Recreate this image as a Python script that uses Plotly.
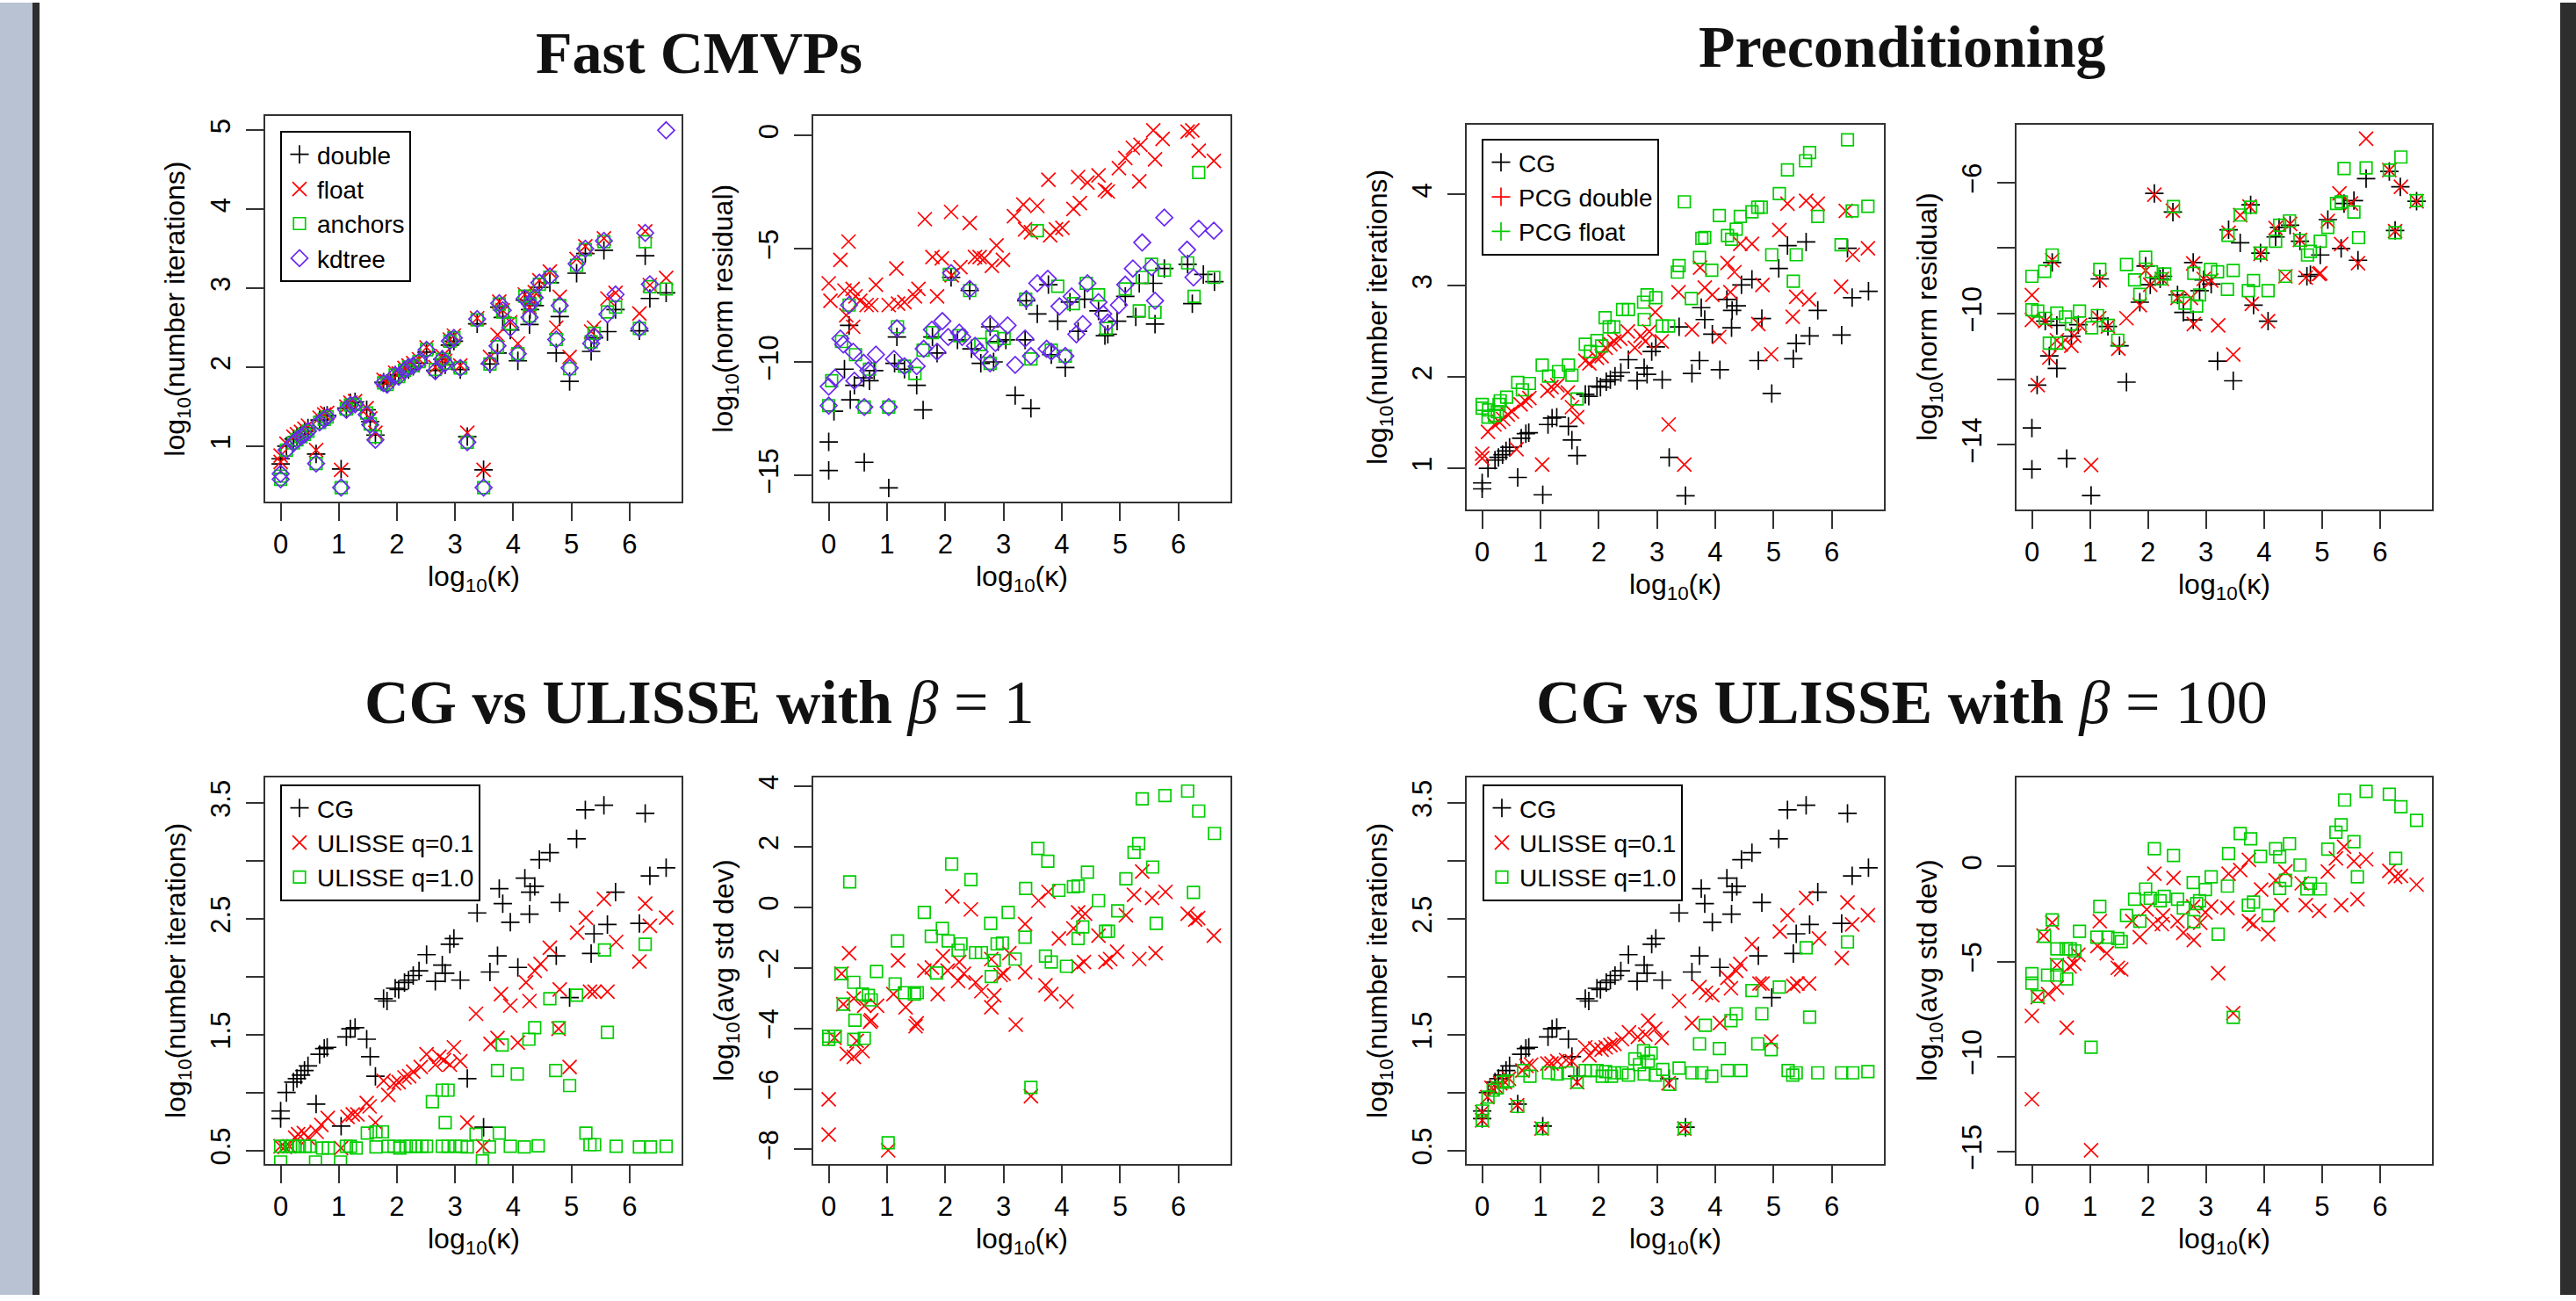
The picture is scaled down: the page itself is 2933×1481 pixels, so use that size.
import plotly.graph_objects as go

# ---------------- data ----------------
kappa_x = [0.00, 0.00, 0.10, 0.22, 0.28, 0.35, 0.41, 0.47, 0.61, 0.67, 0.75, 0.80, 1.04, 1.13, 1.20, 1.28,
           1.48, 1.54, 1.63, 1.77, 1.83, 1.97, 2.03, 2.13, 2.20, 2.28, 2.38, 2.51, 2.66, 2.78, 2.83, 2.91,
           2.98, 3.09, 3.21, 3.38, 3.49, 3.60, 3.73, 3.76, 3.82, 3.95, 4.08, 4.20, 4.28, 4.29, 4.37, 4.45,
           4.63, 4.74, 4.80, 4.97, 5.09, 5.24, 5.34, 5.39, 5.56, 5.62, 5.76, 6.17, 6.27, 6.35, 6.63]
cg_iters = [0.84, 0.775, 1.00, 1.09, 1.12, 1.15, 1.19, 1.23, 0.90, 1.33, 1.38, 1.39, 0.71, 1.48, 1.55, 1.56,
            1.46, 1.31, 1.14, 1.81, 1.79, 1.90, 1.89, 1.95, 1.97, 2.01, 2.05, 2.19, 1.96, 2.10, 2.03, 2.28,
            2.33, 1.97, 1.12, 2.55, 0.70, 2.04, 2.18, 2.76, 2.63, 2.47, 2.08, 2.85, 2.54, 2.73, 2.78, 3.01,
            3.07, 2.18, 2.64, 1.82, 3.19, 3.44, 2.20, 2.37, 3.48, 2.45, 2.73, 2.46, 3.41, 2.87, 2.94]
float_iters = [0.88, 0.80, 1.03, 1.12, 1.15, 1.18, 1.22, 1.26, 0.95, 1.36, 1.40, 1.42, 0.70, 1.50, 1.55, 1.57,
               1.48, 1.35, 1.17, 1.84, 1.82, 1.93, 1.92, 1.99, 2.02, 2.05, 2.10, 2.25, 2.00, 2.14, 2.08, 2.35,
               2.40, 2.02, 1.17, 2.62, 0.70, 2.13, 2.41, 2.83, 2.72, 2.57, 2.30, 2.92, 2.76, 2.85, 2.95, 3.10,
               3.21, 2.50, 2.89, 2.13, 3.37, 3.53, 2.45, 2.50, 3.63, 2.87, 2.94, 2.68, 3.72, 3.04, 3.13]
anchors_iters = [0.62, 0.58, 0.95, 1.04, 1.08, 1.12, 1.15, 1.19, 0.78, 1.30, 1.34, 1.37, 0.475, 1.47, 1.52, 1.53,
                 1.42, 1.28, 1.12, 1.80, 1.78, 1.90, 1.88, 1.96, 2.00, 2.02, 2.07, 2.22, 1.97, 2.10, 2.05, 2.33,
                 2.37, 1.99, 1.05, 2.60, 0.475, 2.04, 2.26, 2.80, 2.70, 2.55, 2.17, 2.90, 2.65, 2.80, 2.87, 3.05,
                 3.14, 2.35, 2.78, 1.98, 3.29, 3.49, 2.32, 2.43, 3.59, 2.70, 2.76, 2.49, 3.59, 3.02, 2.99]
kdtree_iters = [0.65, 0.58, 0.95, 1.04, 1.08, 1.12, 1.15, 1.19, 0.78, 1.30, 1.34, 1.37, 0.475, 1.46, 1.52, 1.53,
                1.40, 1.27, 1.08, 1.80, 1.78, 1.90, 1.88, 1.96, 2.00, 2.02, 2.07, 2.22, 1.95, 2.10, 2.05, 2.33,
                2.37, 1.99, 1.05, 2.61, 0.475, 2.05, 2.27, 2.81, 2.72, 2.50, 2.17, 2.87, 2.63, 2.80, 2.88, 3.07,
                3.15, 2.35, 2.78, 1.99, 3.31, 3.50, 2.30, 2.39, 3.60, 2.67, 2.92, 2.49, 3.70, 3.05, 5.00]

# Fast CMVPs: norm residual
res_double_x = [0.00, 0.00, 0.61, 1.03, 0.09, 0.27, 0.35, 0.44, 0.37, 0.60, 0.70, 0.78, 1.17, 1.13, 1.30, 1.51,
                1.62, 1.78, 1.86, 2.10, 2.21, 2.42, 2.45, 2.61, 2.77, 2.83, 2.91, 3.04, 3.20, 3.37, 3.39, 3.47,
                3.58, 3.77, 3.82, 3.93, 4.06, 4.14, 4.28, 4.39, 4.63, 4.74, 4.79, 4.95, 5.09, 5.27, 5.33, 5.57,
                5.60, 5.76, 6.16, 6.24, 6.43, 6.62]
res_double_y = [-13.52, -14.78, -14.42, -15.55, -12.17, -10.31, -8.38, -11.02, -11.66, -10.69, -10.82, -10.37,
                -8.89, -10.05, -10.31, -11.02, -12.11, -8.89, -9.60, -6.26, -9.02, -6.84, -9.41, -10.05, -8.44,
                -9.99, -9.09, -9.02, -11.47, -9.02, -7.29, -12.04, -7.87, -6.58, -9.67, -8.19, -10.24, -7.35,
                -8.64, -7.22, -7.74, -8.83, -8.77, -8.19, -7.10, -8.00, -6.52, -6.52, -8.32, -5.87, -5.68,
                -7.42, -6.13, -6.45]
res_float_x = [0.00, 0.03, 0.20, 0.34, 0.27, 0.41, 0.46, 0.54, 0.65, 0.73, 0.81, 0.42, 0.30, 1.03, 1.16, 1.19,
               1.30, 1.48, 1.54, 1.65, 1.78, 1.86, 1.94, 2.10, 2.11, 2.26, 2.42, 2.51, 2.59, 2.67, 2.80, 2.88,
               2.99, 3.18, 3.34, 3.37, 3.47, 3.58, 3.77, 3.80, 3.90, 4.01, 4.20, 4.28, 4.31, 4.44, 4.63, 4.74,
               4.79, 4.98, 5.09, 5.22, 5.33, 5.35, 5.57, 5.60, 5.73, 6.16, 6.24, 6.35, 6.61]
res_float_y = [-6.52, -7.29, -5.49, -4.68, -6.84, -6.77, -7.10, -7.29, -7.48, -7.48, -6.58, -8.44, -7.93, -7.48,
               -5.87, -7.42, -7.35, -7.10, -6.77, -3.69, -5.36, -7.10, -5.42, -3.37, -6.17, -5.81, -3.86, -5.36,
               -5.36, -5.42, -5.75, -4.85, -5.49, -3.56, -3.05, -4.14, -4.27, -3.11, -1.95, -4.40, -4.14, -4.07,
               -3.24, -1.83, -2.98, -2.08, -1.76, -2.40, -2.47, -1.44, -0.99, -0.54, -2.02, -0.41, 0.23, -1.05,
               -0.15, 0.17, 0.23, -0.67, -1.12]
res_anchors_x = [0.00, 0.05, 0.22, 0.35, 0.46, 0.61, 0.70, 1.03, 1.18, 1.30, 1.48, 1.62, 1.78, 2.07, 2.24, 2.42,
                 2.61, 2.80, 2.77, 3.01, 3.38, 3.47, 3.58, 3.93, 3.82, 4.06, 4.20, 4.42, 4.63, 4.76, 5.09, 5.33,
                 5.38, 5.54, 5.60, 5.76, 6.16, 6.27, 6.35, 6.61]
res_anchors_y = [-11.92, -10.82, -9.09, -7.48, -9.67, -11.98, -10.31, -11.98, -8.44, -10.18, -10.50, -9.47, -8.70,
                 -6.13, -8.83, -6.84, -9.22, -8.89, -10.05, -8.96, -7.22, -9.86, -4.20, -6.65, -9.47, -9.73, -7.42,
                 -6.52, -7.03, -8.51, -6.77, -7.74, -6.26, -5.68, -7.80, -5.94, -5.62, -7.10, -1.63, -6.26]
res_kdtree_x = [0.00, 0.00, 0.11, 0.20, 0.25, 0.35, 0.42, 0.44, 0.60, 0.61, 0.68, 0.81, 1.03, 1.12, 1.17, 1.30,
                1.51, 1.63, 1.77, 1.86, 1.95, 2.10, 2.05, 2.24, 2.29, 2.42, 2.51, 2.59, 2.77, 2.77, 2.86, 3.07,
                3.20, 3.37, 3.39, 3.47, 3.58, 3.76, 3.74, 3.82, 3.96, 4.06, 4.17, 4.25, 4.36, 4.44, 4.63, 4.71,
                4.79, 4.98, 5.09, 5.22, 5.38, 5.54, 5.60, 5.76, 6.15, 6.26, 6.35, 6.61]
res_kdtree_y = [-11.92, -11.08, -10.69, -8.96, -9.22, -7.48, -9.54, -10.82, -10.03, -11.98, -10.37, -9.67, -11.98,
                -9.86, -8.51, -10.18, -10.18, -9.41, -8.57, -9.54, -8.19, -6.07, -8.89, -8.70, -8.89, -6.77, -9.28,
                -9.54, -8.32, -10.05, -9.15, -8.38, -10.12, -8.96, -7.22, -9.73, -6.52, -6.32, -9.41, -9.54, -7.54,
                -9.73, -7.10, -8.77, -8.32, -6.52, -7.35, -7.87, -8.25, -7.48, -6.58, -5.87, -4.72, -5.81, -7.29,
                -3.62, -5.04, -6.26, -4.11, -4.20]

# Preconditioning: iterations
pcg_double_x = [0.00, 0.00, 0.10, 0.21, 0.29, 0.36, 0.44, 0.51, 0.59, 0.66, 0.74, 0.81, 1.03, 1.12, 1.19, 1.29,
                1.47, 1.54, 1.63, 1.77, 1.84, 1.97, 2.05, 2.12, 2.20, 2.27, 2.37, 2.50, 2.62, 2.72, 2.80, 2.87,
                2.97, 3.08, 3.20, 3.37, 3.47, 3.60, 3.74, 3.82, 3.95, 4.07, 4.21, 4.26, 4.33, 4.43, 4.63, 4.74,
                4.81, 4.96, 5.10, 5.24, 5.33, 5.39, 5.56, 5.61, 5.76, 6.16, 6.24, 6.36, 6.62]
pcg_double_y = [1.16, 1.11, 1.40, 1.48, 1.51, 1.54, 1.59, 1.62, 1.21, 1.70, 1.74, 1.77, 1.04, 1.85, 1.89, 1.91,
                1.83, 1.67, 1.56, 2.18, 2.15, 2.21, 2.23, 2.32, 2.36, 2.39, 2.42, 2.50, 2.32, 2.45, 2.39, 2.50,
                2.71, 2.39, 1.48, 2.93, 1.04, 2.52, 3.20, 2.98, 2.90, 2.44, 3.25, 2.93, 3.15, 3.46, 3.46, 2.58,
                3.01, 2.25, 3.61, 3.90, 2.66, 2.88, 3.93, 2.85, 3.90, 2.99, 3.82, 3.34, 3.41]
pcg_float_x = [0.00, 0.00, 0.10, 0.11, 0.21, 0.26, 0.29, 0.31, 0.42, 0.61, 0.69, 0.81, 1.03, 1.14, 1.31, 1.48,
               1.54, 1.63, 1.77, 1.86, 1.97, 2.05, 2.11, 2.18, 2.26, 2.41, 2.51, 2.77, 2.83, 2.98, 2.78, 3.09,
               3.20, 3.35, 3.38, 3.47, 3.59, 3.73, 3.77, 3.82, 3.94, 4.07, 4.21, 4.28, 4.36, 4.43, 4.63, 4.73,
               4.79, 4.97, 5.10, 5.24, 5.34, 5.39, 5.55, 5.62, 5.76, 6.16, 6.27, 6.35, 6.62]
pcg_float_y = [1.70, 1.66, 1.56, 1.64, 1.58, 1.62, 1.70, 1.74, 1.78, 1.94, 1.86, 1.93, 2.13, 2.01, 2.06, 2.13,
               2.02, 1.76, 2.36, 2.28, 2.40, 2.34, 2.65, 2.55, 2.55, 2.74, 2.74, 2.82, 2.90, 2.87, 2.63, 2.56,
               2.56, 3.15, 3.22, 3.92, 2.86, 3.31, 3.52, 3.53, 3.17, 3.77, 3.55, 3.51, 3.62, 3.76, 3.81, 3.86,
               3.86, 3.34, 4.01, 4.27, 3.05, 3.34, 4.37, 4.46, 3.76, 3.45, 4.60, 3.82, 3.87]

# Preconditioning: norm residual
pres_cg_x = [0.00, 0.00, 0.60, 1.02, 0.09, 0.30, 0.43, 0.23, 0.43, 0.35, 0.68, 0.80, 1.17, 1.13, 1.31, 1.51,
             1.63, 1.86, 1.96, 2.11, 2.04, 2.21, 2.26, 2.43, 2.51, 2.61, 2.78, 2.78, 2.89, 2.96, 3.09, 3.20,
             3.39, 3.47, 3.59, 3.77, 3.82, 3.94, 4.07, 4.20, 4.26, 4.45, 4.62, 4.74, 4.80, 4.97, 5.10, 5.33,
             5.38, 5.55, 5.62, 5.76, 6.16, 6.26, 6.35, 6.63]
pres_cg_y = [-13.49, -14.75, -14.42, -15.55, -12.18, -11.29, -11.67, -10.23, -10.36, -8.44, -10.69, -10.34, -8.94,
             -10.14, -10.39, -10.98, -12.09, -9.65, -8.55, -6.33, -9.12, -8.94, -8.86, -6.90, -9.43, -9.96, -10.19,
             -8.44, -9.30, -8.97, -9.10, -11.45, -7.44, -12.05, -7.84, -6.68, -9.74, -8.15, -10.23, -7.66, -7.37,
             -7.30, -7.79, -8.86, -8.81, -8.21, -7.13, -8.01, -6.64, -6.55, -8.37, -5.88, -5.66, -7.46, -6.13,
             -6.57]
pres_pcgd_x = [0.00, 0.10, 0.00, 0.23, 0.30, 0.43, 0.50, 0.68, 0.73, 0.83, 0.35, 1.02, 1.16, 1.17, 1.31, 1.49,
               1.63, 1.86, 1.96, 2.11, 2.04, 2.24, 2.43, 2.51, 2.74, 2.79, 2.78, 2.96, 3.09, 3.21, 3.39, 3.47,
               3.59, 3.75, 3.79, 3.94, 4.07, 4.20, 4.37, 4.45, 4.62, 4.72, 4.95, 4.97, 5.10, 5.33, 5.30, 5.50,
               5.62, 5.76, 6.16, 6.26, 6.36, 6.63]
pres_pcgd_y = [-9.43, -12.18, -10.19, -10.23, -11.34, -10.81, -10.94, -10.98, -10.67, -10.36, -8.37, -14.62,
               -10.14, -8.97, -10.39, -11.07, -10.14, -9.74, -8.68, -6.37, -9.12, -8.94, -6.86, -9.52, -9.52,
               -10.32, -8.47, -8.94, -8.99, -10.36, -7.53, -11.25, -6.99, -6.73, -9.70, -8.17, -10.23, -7.39,
               -8.86, -7.26, -7.75, -8.90, -8.79, -8.77, -7.17, -7.88, -6.33, -6.64, -8.46, -4.66, -5.62, -7.48,
               -6.13, -6.57]
pres_pcgf_x = [0.00, 0.22, 0.35, 0.00, 0.10, 0.23, 0.43, 0.58, 0.68, 0.82, 0.30, 0.43, 1.03, 1.17, 1.13, 1.31,
               1.48, 1.63, 1.77, 1.86, 1.96, 2.06, 2.23, 2.29, 2.44, 2.51, 2.64, 2.79, 2.84, 2.89, 3.08, 3.20,
               3.37, 3.38, 3.47, 3.59, 3.73, 3.77, 3.82, 3.94, 4.07, 4.20, 4.27, 4.44, 4.37, 4.62, 4.75, 4.80,
               4.97, 5.10, 5.25, 5.33, 5.38, 5.55, 5.63, 5.76, 6.16, 6.26, 6.36, 6.63]
pres_pcgf_y = [-8.86, -8.71, -8.21, -9.88, -9.92, -10.14, -9.98, -10.10, -10.32, -9.92, -10.90, -10.90, -10.43,
               -8.65, -10.06, -10.36, -10.81, -8.50, -8.97, -9.41, -8.28, -8.72, -8.94, -8.79, -6.73, -9.48,
               -9.68, -8.77, -9.77, -9.43, -8.65, -8.72, -9.26, -7.61, -8.68, -6.99, -9.30, -6.75, -8.99, -8.15,
               -9.30, -7.79, -7.30, -7.17, -8.86, -7.76, -8.21, -8.10, -7.79, -7.37, -6.64, -6.59, -5.57, -6.90,
               -7.68, -5.55, -5.62, -7.53, -5.22, -6.55]

# CG vs ULISSE, beta = 1: iterations
u1_q01_x = [0.00, 0.07, 0.15, 0.25, 0.30, 0.40, 0.47, 0.62, 0.70, 0.81, 1.04, 1.15, 1.24, 1.32, 1.48, 1.53,
            1.63, 1.77, 1.85, 1.95, 2.03, 2.13, 2.21, 2.28, 2.41, 2.51, 2.66, 2.73, 2.81, 2.91, 2.98, 3.09,
            3.21, 3.36, 3.48, 3.61, 3.73, 3.79, 3.95, 4.08, 4.28, 4.22, 4.37, 4.47, 4.63, 4.78, 4.80, 4.97,
            5.10, 5.25, 5.32, 5.40, 5.62, 5.56, 5.77, 6.17, 6.27, 6.35, 6.63]
u1_q01_y = [0.535, 0.53, 0.535, 0.61, 0.64, 0.65, 0.61, 0.66, 0.72, 0.78, 0.52, 0.79, 0.81, 0.81, 0.91, 0.88,
            0.74, 1.10, 0.98, 1.08, 1.09, 1.13, 1.14, 1.18, 1.22, 1.33, 1.24, 1.31, 1.28, 1.24, 1.39, 1.27,
            0.74, 1.68, 0.535, 1.42, 1.47, 1.85, 1.75, 1.43, 1.79, 1.95, 2.05, 2.11, 2.25, 1.55, 1.89, 1.22,
            2.38, 2.51, 1.87, 1.87, 1.87, 2.67, 2.30, 2.13, 2.63, 2.44, 2.51]
u1_q10_x = [0.00, 0.00, 0.10, 0.17, 0.25, 0.32, 0.42, 0.50, 0.60, 0.72, 0.82, 1.03, 1.13, 1.20, 1.30, 1.49,
            1.64, 1.64, 1.75, 1.85, 1.95, 2.05, 2.16, 2.23, 2.33, 2.43, 2.51, 2.61, 2.78, 2.88, 2.78, 2.88,
            2.83, 3.01, 3.11, 3.21, 3.36, 3.47, 3.59, 3.76, 3.73, 3.81, 3.95, 4.07, 4.19, 4.27, 4.37, 4.43,
            4.63, 4.73, 4.79, 4.97, 5.09, 5.25, 5.32, 5.40, 5.57, 5.62, 5.77, 6.17, 6.27, 6.36, 6.63]
u1_q10_y = [0.535, 0.40, 0.535, 0.535, 0.535, 0.535, 0.535, 0.535, 0.40, 0.52, 0.52, 0.40, 0.535, 0.535, 0.52,
            0.65, 0.53, 0.66, 0.66, 0.535, 0.535, 0.52, 0.535, 0.535, 0.535, 0.535, 0.535, 0.92, 1.02, 1.02,
            0.535, 0.535, 0.74, 0.535, 0.535, 0.53, 0.64, 0.41, 0.53, 0.65, 1.19, 1.41, 0.535, 1.16, 0.53,
            1.46, 1.56, 0.54, 1.81, 1.19, 1.56, 1.06, 1.84, 0.65, 0.55, 0.55, 2.23, 1.52, 0.535, 0.53, 2.28,
            0.53, 0.535]

# CG vs ULISSE, beta = 1: avg std dev
sd1_q01_x = [0.00, 0.00, 0.10, 0.22, 0.25, 0.35, 0.31, 0.43, 0.43, 0.48, 0.58, 0.61, 0.71, 0.73, 0.83, 1.02,
             1.11, 1.19, 1.32, 1.49, 1.51, 1.64, 1.77, 1.87, 1.96, 2.04, 2.12, 2.22, 2.24, 2.32, 2.44, 2.52,
             2.62, 2.79, 2.79, 2.84, 2.95, 3.00, 3.10, 3.21, 3.37, 3.37, 3.47, 3.60, 3.72, 3.77, 3.82, 3.95,
             4.08, 4.20, 4.28, 4.28, 4.40, 4.38, 4.63, 4.75, 4.83, 4.95, 5.10, 5.24, 5.33, 5.38, 5.55, 5.61,
             5.78, 6.16, 6.29, 6.34, 6.61]
sd1_q01_y = [-6.34, -7.51, -4.31, -2.19, -3.20, -1.52, -4.84, -4.94, -3.01, -4.41, -4.75, -3.25, -3.78, -3.73,
             -3.25, -8.03, -2.87, -1.76, -3.30, -3.93, -3.83, -2.09, -1.99, -2.87, -1.61, -2.09, 0.36, -2.43,
             -1.81, -2.19, -0.07, -2.48, -2.77, -1.71, -3.30, -2.91, -2.24, -2.19, -1.52, -3.88, -0.55, -2.14,
             -6.24, 0.22, -2.58, 0.51, -2.87, -1.03, -3.11, -0.70, -0.17, -1.95, -0.21, -1.81, -0.94, -1.81,
             -1.71, -1.47, -0.26, 0.41, -1.71, 1.18, 0.31, -1.52, 0.51, -0.21, -0.41, -0.36, -0.94]
sd1_q10_x = [0.00, 0.00, 0.11, 0.21, 0.25, 0.36, 0.43, 0.45, 0.43, 0.58, 0.68, 0.73, 0.61, 0.82, 1.02, 1.14,
             1.18, 1.30, 1.47, 1.52, 1.64, 1.76, 1.85, 1.95, 2.05, 2.11, 2.22, 2.27, 2.44, 2.52, 2.62, 2.78,
             2.79, 2.84, 2.89, 2.98, 3.08, 3.20, 3.37, 3.38, 3.47, 3.59, 3.72, 3.76, 3.82, 3.95, 4.08, 4.20,
             4.28, 4.28, 4.36, 4.44, 4.63, 4.75, 4.80, 4.96, 5.10, 5.24, 5.32, 5.56, 5.38, 5.62, 5.77, 6.16,
             6.26, 6.35, 6.62]
sd1_q10_y = [-4.36, -4.26, -4.26, -2.19, -3.20, 0.84, -2.48, -3.73, -4.36, -2.87, -2.91, -3.06, -4.33, -2.12,
             -7.78, -2.53, -1.11, -2.82, -2.87, -2.82, -0.17, -0.96, -2.17, -0.70, -1.11, 1.43, -1.42, -1.21,
             0.91, -1.50, -1.50, -0.53, -2.29, -1.76, -1.21, -1.18, -0.17, -1.71, -0.99, 0.62, -5.95, 1.94,
             -1.61, 1.52, -1.81, 0.56, -1.95, 0.68, 0.70, -1.03, -0.65, 1.16, 0.22, -0.79, -0.79, -0.12, 0.94,
             1.81, 2.10, 1.33, 3.58, -0.53, 3.69, 3.84, 0.49, 3.18, 2.44]

# CG vs ULISSE, beta = 100: iterations
u100_q01_x = [0.00, 0.00, 0.09, 0.16, 0.24, 0.31, 0.39, 0.46, 0.60, 0.69, 0.76, 0.84, 1.02, 1.12, 1.19, 1.29,
              1.44, 1.54, 1.63, 1.77, 1.84, 1.94, 2.05, 2.12, 2.20, 2.27, 2.40, 2.52, 2.67, 2.80, 2.85, 2.97,
              3.08, 3.20, 3.38, 3.47, 3.60, 3.73, 3.84, 3.95, 4.08, 4.21, 4.27, 4.36, 4.43, 4.63, 4.76, 4.81,
              4.96, 5.11, 5.24, 5.34, 5.41, 5.61, 5.56, 5.78, 6.17, 6.27, 6.35, 6.62]
u100_q01_y = [0.83, 0.76, 0.96, 1.04, 1.05, 1.08, 1.09, 1.12, 0.89, 1.19, 1.23, 1.24, 0.69, 1.25, 1.25, 1.27,
              1.28, 1.27, 1.09, 1.39, 1.32, 1.38, 1.37, 1.39, 1.41, 1.42, 1.46, 1.52, 1.48, 1.50, 1.62, 1.55,
              1.47, 1.08, 1.79, 0.69, 1.60, 1.91, 1.86, 1.84, 1.60, 1.99, 1.90, 2.05, 2.11, 2.28, 1.94, 1.94,
              1.44, 2.39, 2.53, 1.92, 1.94, 1.94, 2.68, 2.33, 2.16, 2.64, 2.45, 2.53]
u100_q10_x = [0.00, 0.00, 0.10, 0.19, 0.26, 0.36, 0.44, 0.61, 0.71, 0.82, 1.03, 1.14, 1.29, 1.47, 1.63, 1.77,
              1.87, 1.97, 2.06, 2.12, 2.22, 2.27, 2.40, 2.51, 2.62, 2.70, 2.77, 2.85, 2.90, 2.78, 2.97, 3.10,
              3.22, 3.38, 3.47, 3.60, 3.73, 3.77, 3.83, 3.94, 4.07, 4.21, 4.27, 4.36, 4.44, 4.63, 4.73, 4.80,
              4.96, 5.10, 5.25, 5.33, 5.39, 5.56, 5.62, 5.76, 6.17, 6.27, 6.36, 6.62]
u100_q10_y = [0.84, 0.76, 0.96, 1.02, 1.04, 1.09, 1.10, 0.88, 1.19, 1.14, 0.69, 1.17, 1.16, 1.17, 1.09, 1.19,
              1.19, 1.19, 1.14, 1.18, 1.14, 1.17, 1.17, 1.15, 1.29, 1.24, 1.36, 1.27, 1.34, 1.16, 1.15, 1.20,
              1.07, 1.21, 0.69, 1.17, 1.42, 1.17, 1.58, 1.14, 1.38, 1.19, 1.62, 1.68, 1.19, 1.88, 1.42, 1.68,
              1.37, 1.91, 1.19, 1.15, 1.17, 2.25, 1.65, 1.17, 1.17, 2.30, 1.17, 1.18]

# CG vs ULISSE, beta = 100: avg std dev
sd100_q01_x = [0.00, 0.00, 0.10, 0.20, 0.28, 0.35, 0.43, 0.43, 0.60, 0.65, 0.73, 0.80, 1.02, 1.13, 1.17, 1.29,
               1.48, 1.54, 1.73, 1.86, 1.98, 2.11, 2.09, 2.24, 2.26, 2.44, 2.51, 2.61, 2.79, 2.78, 2.90, 2.99,
               3.09, 3.21, 3.37, 3.39, 3.47, 3.59, 3.74, 3.74, 3.82, 3.95, 4.07, 4.20, 4.30, 4.37, 4.65, 4.72,
               4.95, 5.10, 5.24, 5.33, 5.38, 5.55, 5.61, 5.76, 6.16, 6.26, 6.36, 6.63]
sd100_q01_y = [-12.24, -7.86, -6.87, -3.64, -6.71, -2.95, -6.37, -5.18, -8.48, -5.25, -5.10, -4.64, -14.93, -4.18,
               -2.87, -4.56, -5.33, -5.41, -2.87, -3.72, -2.26, -0.38, -3.03, -3.03, -2.57, -0.60, -2.87, -3.49,
               -3.87, -2.10, -2.95, -2.41, -2.10, -5.61, -2.18, -0.38, -7.71, -0.18, 0.35, -2.87, -3.03, -1.21,
               -3.56, -0.72, -2.03, -0.26, -0.88, -2.03, -2.33, -0.26, 0.43, -2.03, 1.04, 0.28, -1.72, 0.38,
               -0.23, -0.54, -0.49, -0.95]
sd100_q10_x = [0.00, 0.00, 0.10, 0.22, 0.35, 0.27, 0.43, 0.43, 0.43, 0.60, 0.59, 0.66, 0.74, 0.82, 1.02, 1.17,
               1.12, 1.31, 1.48, 1.54, 1.63, 1.86, 1.77, 1.96, 2.04, 2.11, 2.21, 2.28, 2.44, 2.51, 2.61, 2.79,
               2.78, 2.84, 2.89, 2.99, 3.09, 3.21, 3.37, 3.39, 3.47, 3.59, 3.73, 3.77, 3.82, 3.94, 4.07, 4.20,
               4.27, 4.27, 4.37, 4.44, 4.62, 4.74, 4.80, 4.97, 5.10, 5.24, 5.33, 5.39, 5.55, 5.61, 5.76, 6.16,
               6.27, 6.36, 6.63]
sd100_q10_y = [-5.64, -6.13, -6.84, -3.67, -2.80, -5.71, -4.33, -5.18, -5.71, -5.91, -4.33, -4.33, -4.44, -3.41,
               -9.51, -2.10, -3.72, -3.72, -3.79, -3.95, -2.57, -2.87, -1.72, -1.18, -1.67, 0.94, -1.80, -1.57,
               0.58, -1.72, -2.18, -2.90, -0.84, -1.95, -1.80, -1.21, -0.54, -3.56, -1.03, 0.69, -7.94, 1.74,
               -2.03, 1.46, -1.87, 0.54, -2.57, 0.94, 0.51, -1.15, -0.72, 1.20, 0.08, -1.18, -0.88, -1.18, 0.92,
               1.81, 2.20, 3.50, 1.31, -0.54, 3.96, 3.81, 0.43, 3.15, 2.43]

# axis tick positions (labelled / unlabelled)
x_ticks = [0, 1, 2, 3, 4, 5, 6]
y_ticks = {
    1: ([1, 2, 3, 4, 5], []),
    2: ([0, -5, -10, -15], []),
    3: ([1, 2, 3, 4], []),
    4: ([-6, -10, -14], [-8, -12]),
    5: ([0.5, 1.5, 2.5, 3.5], [1.0, 2.0, 3.0]),
    6: ([4, 2, 0, -2, -4, -6, -8], []),
    7: ([0.5, 1.5, 2.5, 3.5], [1.0, 2.0, 3.0]),
    8: ([0, -5, -10, -15], []),
}

# ---------------- layout helpers ----------------
W, H = 2933, 1481
BLACK, RED, GREEN, PURPLE = "#000000", "#FF0000", "#00CD00", "#6A28F0"
SANS = "Liberation Sans"
SERIF = "Liberation Serif"

# panel boxes in pixels: (left, right, top, bottom)
boxes = {
    1: (302, 776, 130, 572),
    2: (926, 1401, 130, 572),
    3: (1670, 2145, 140, 581),
    4: (2296, 2769, 140, 581),
    5: (302, 776, 888, 1331),
    6: (926, 1401, 888, 1331),
    7: (1670, 2145, 888, 1331),
    8: (2296, 2769, 888, 1331),
}
x_range = [-0.265, 6.895]
y_ranges = {1: [0.296, 5.18], 2: [-16.16, 0.86], 3: [0.548, 4.764], 4: [-15.98, -4.236],
            5: [0.383, 3.72], 6: [-8.48, 4.29], 7: [0.383, 3.72], 8: [-15.65, 4.69]}
y_titles = {1: "number iterations", 2: "norm residual", 3: "number iterations", 4: "norm residual",
            5: "number iterations", 6: "avg std dev", 7: "number iterations", 8: "avg std dev"}

def fmt(v):
    s = ("%g" % abs(v))
    if isinstance(v, float) and abs(v) < 10 and "." not in s:
        s = s + ".0"
    return ("\u2212" if v < 0 else "") + s

LW = 1.7
def mk(kind, color):
    if kind == "plus":
        return dict(symbol="cross-thin-open", size=15, color=color, line=dict(color=color, width=LW))
    if kind == "x":
        return dict(symbol="x-thin-open", size=16, color=color, line=dict(color=color, width=LW))
    if kind == "sq":
        return dict(symbol="square-open", size=13.5, color=color, line=dict(color=color, width=LW))
    return dict(symbol="diamond-open", size=14.6, color=color, line=dict(color=color, width=LW))

fig = go.Figure()

def add(p, xs, ys, kind, color, name=None, legend=None):
    ax = "" if p == 1 else str(p)
    fig.add_trace(go.Scatter(
        x=xs, y=ys, mode="markers", marker=mk(kind, color),
        xaxis="x" + ax, yaxis="y" + ax,
        name=name if name else "series", showlegend=name is not None and legend is not None,
        legend=legend if legend else "legend", hoverinfo="skip"))

# Panel 1
add(1, kappa_x, cg_iters, "plus", BLACK, "double", "legend")
add(1, kappa_x, float_iters, "x", RED, "float", "legend")
add(1, kappa_x, anchors_iters, "sq", GREEN, "anchors", "legend")
add(1, kappa_x, kdtree_iters, "dia", PURPLE, "kdtree", "legend")
# Panel 2
add(2, res_double_x, res_double_y, "plus", BLACK)
add(2, res_float_x, res_float_y, "x", RED)
add(2, res_anchors_x, res_anchors_y, "sq", GREEN)
add(2, res_kdtree_x, res_kdtree_y, "dia", PURPLE)
# Panel 3 (legend entries drawn with "+" as in the original)
add(3, kappa_x, cg_iters, "plus", BLACK)
add(3, pcg_double_x, pcg_double_y, "x", RED)
add(3, pcg_float_x, pcg_float_y, "sq", GREEN)
for nm, col in [("CG", BLACK), ("PCG double", RED), ("PCG float", GREEN)]:
    fig.add_trace(go.Scatter(x=[None], y=[None], mode="markers", marker=mk("plus", col),
                             xaxis="x3", yaxis="y3", name=nm, showlegend=True, legend="legend2"))
# Panel 4
add(4, pres_cg_x, pres_cg_y, "plus", BLACK)
add(4, pres_pcgd_x, pres_pcgd_y, "x", RED)
add(4, pres_pcgf_x, pres_pcgf_y, "sq", GREEN)
# Panel 5
add(5, kappa_x, cg_iters, "plus", BLACK, "CG", "legend3")
add(5, u1_q01_x, u1_q01_y, "x", RED, "ULISSE q=0.1", "legend3")
add(5, u1_q10_x, u1_q10_y, "sq", GREEN, "ULISSE q=1.0", "legend3")
# Panel 6
add(6, sd1_q01_x, sd1_q01_y, "x", RED)
add(6, sd1_q10_x, sd1_q10_y, "sq", GREEN)
# Panel 7
add(7, kappa_x, cg_iters, "plus", BLACK, "CG", "legend4")
add(7, u100_q01_x, u100_q01_y, "x", RED, "ULISSE q=0.1", "legend4")
add(7, u100_q10_x, u100_q10_y, "sq", GREEN, "ULISSE q=1.0", "legend4")
# Panel 8
add(8, sd100_q01_x, sd100_q01_y, "x", RED)
add(8, sd100_q10_x, sd100_q10_y, "sq", GREEN)

layout = dict(width=W, height=H, margin=dict(l=0, r=0, t=0, b=0),
              paper_bgcolor="white", plot_bgcolor="white", showlegend=True)

axis_common = dict(showline=True, linecolor="#333333", linewidth=2, mirror=True,
                   ticks="outside", ticklen=20, tickwidth=2, tickcolor="#333333",
                   showgrid=False, zeroline=False,
                   tickfont=dict(family=SANS, size=31, color="black"))
annotations = []
for p, (l, r, t, b) in boxes.items():
    ax = "" if p == 1 else str(p)
    major, minor = y_ticks[p]
    layout["xaxis" + ax] = dict(axis_common, domain=[l / W, r / W], range=x_range,
                                anchor="y" + ax, tickmode="array", tickvals=x_ticks,
                                ticktext=[str(v) for v in x_ticks], ticklabelstandoff=0)
    yax = dict(axis_common, domain=[1 - b / H, 1 - t / H], range=y_ranges[p],
               anchor="x" + ax, tickmode="array", tickvals=major, ticktext=[fmt(v) for v in major],
               tickangle=-90, ticklabelstandoff=6)
    if minor:
        yax["minor"] = dict(tickmode="array", tickvals=minor, ticks="outside", ticklen=20,
                            tickwidth=2, tickcolor="#333333", showgrid=False)
    layout["yaxis" + ax] = yax
    annotations.append(dict(text="log<sub>10</sub>(" + y_titles[p] + ")", x=(l - 100) / W,
                            y=1 - (t + b) / 2 / H, xref="paper", yref="paper",
                            showarrow=False, textangle=-90, xanchor="center", yanchor="middle",
                            font=dict(family=SANS, size=32, color="black")))
    annotations.append(dict(text="log<sub>10</sub>(\u03ba)", x=(l + r) / 2 / W, y=1 - (b + 88) / H,
                            xref="paper", yref="paper", showarrow=False, xanchor="center", yanchor="middle",
                            font=dict(family=SANS, size=32, color="black")))

titles = [
    ("<b>Fast CMVPs</b>", 796, 57, 68),
    ("<b>Preconditioning</b>", 2165, 50, 68),
    ("<b>CG vs ULISSE with</b> <i>\u03b2</i> = 1", 796, 802, 70),
    ("<b>CG vs ULISSE with</b> <i>\u03b2</i> = 100", 2165, 802, 70),
]
for txt, cx, cy, fs in titles:
    annotations.append(dict(text=txt, x=cx / W, y=1 - cy / H, xref="paper", yref="paper", showarrow=False,
                            xanchor="center", yanchor="middle",
                            font=dict(family=SERIF, size=fs, color="#111111")))
layout["annotations"] = annotations

leg_common = dict(xref="paper", yref="paper", xanchor="left", yanchor="top", bgcolor="white",
                  bordercolor="black", borderwidth=2, font=dict(family=SANS, size=28, color="black"),
                  tracegroupgap=0, itemsizing="trace")
layout["legend"] = dict(leg_common, x=319 / W, y=1 - 147 / H)
layout["legend2"] = dict(leg_common, x=1687 / W, y=1 - 156 / H)
layout["legend3"] = dict(leg_common, x=319 / W, y=1 - 896 / H)
layout["legend4"] = dict(leg_common, x=1688 / W, y=1 - 896 / H)

layout["shapes"] = [
    dict(type="rect", xref="paper", yref="paper", x0=0, x1=37 / W, y0=0, y1=1,
         fillcolor="#B9C2D2", line=dict(width=0), layer="below"),
    dict(type="rect", xref="paper", yref="paper", x0=37 / W, x1=45 / W, y0=0, y1=1,
         fillcolor="#2E2E2E", line=dict(width=0), layer="below"),
    dict(type="rect", xref="paper", yref="paper", x0=2915 / W, x1=1, y0=0, y1=1,
         fillcolor="#2E2E2E", line=dict(width=0), layer="below"),
]

fig.update_layout(**layout)
fig.write_html("out.html")
